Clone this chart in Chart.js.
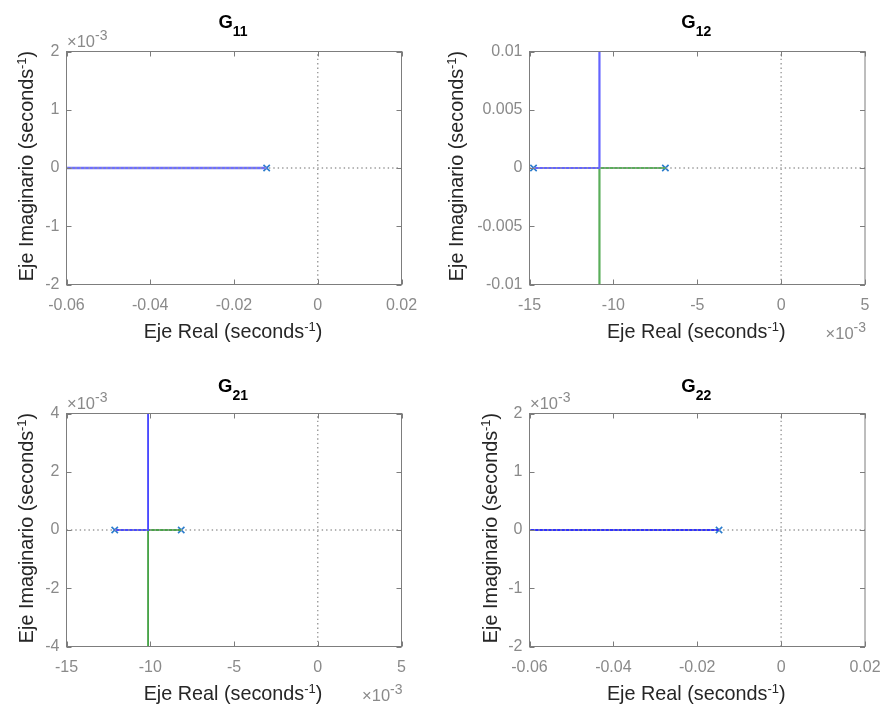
<!DOCTYPE html>
<html><head><meta charset="utf-8">
<script src="https://cdn.jsdelivr.net/npm/chart.js@4.4.0/dist/chart.umd.min.js"></script>
<style>
html,body{margin:0;padding:0;background:#fff;}
#wrap{position:relative;width:884px;height:706px;overflow:hidden;background:#fff;}
canvas{position:absolute;left:0;top:0;}
</style></head><body>
<div id="wrap">
<canvas id="c11" width="884" height="706"></canvas>
<canvas id="c12" width="884" height="706"></canvas>
<canvas id="c21" width="884" height="706"></canvas>
<canvas id="c22" width="884" height="706"></canvas>
</div>
<script>
// ---------------- data ----------------
// G11
const g11XRange = [-0.06, 0.02];
const g11YRange = [-0.002, 0.002];
const g11XTicks = [-0.06, -0.04, -0.02, 0, 0.02];
const g11XTickLabels = ['-0.06', '-0.04', '-0.02', '0', '0.02'];
const g11YTicks = [-0.002, -0.001, 0, 0.001, 0.002];
const g11YTickLabels = ['-2', '-1', '0', '1', '2'];
const g11Poles = [[-0.0122, 0]];
const g11Blue = [[-0.06, 0], [-0.0122, 0]];

// G12
const g12XRange = [-0.015, 0.005];
const g12YRange = [-0.01, 0.01];
const g12XTicks = [-0.015, -0.01, -0.005, 0, 0.005];
const g12XTickLabels = ['-15', '-10', '-5', '0', '5'];
const g12YTicks = [-0.01, -0.005, 0, 0.005, 0.01];
const g12YTickLabels = ['-0.01', '-0.005', '0', '0.005', '0.01'];
const g12Poles = [[-0.01476, 0], [-0.0069, 0]];
const g12Blue = [[-0.01476, 0], [-0.01083, 0], [-0.01083, 0.01]];
const g12Green = [[-0.0069, 0], [-0.01083, 0], [-0.01083, -0.01]];

// G21
const g21XRange = [-0.015, 0.005];
const g21YRange = [-0.004, 0.004];
const g21XTicks = [-0.015, -0.01, -0.005, 0, 0.005];
const g21XTickLabels = ['-15', '-10', '-5', '0', '5'];
const g21YTicks = [-0.004, -0.002, 0, 0.002, 0.004];
const g21YTickLabels = ['-4', '-2', '0', '2', '4'];
const g21Poles = [[-0.01212, 0], [-0.00815, 0]];
const g21Blue = [[-0.01212, 0], [-0.01013, 0], [-0.01013, 0.004]];
const g21Green = [[-0.00815, 0], [-0.01013, 0], [-0.01013, -0.004]];

// G22
const g22XRange = [-0.06, 0.02];
const g22YRange = [-0.002, 0.002];
const g22XTicks = [-0.06, -0.04, -0.02, 0, 0.02];
const g22XTickLabels = ['-0.06', '-0.04', '-0.02', '0', '0.02'];
const g22YTicks = [-0.002, -0.001, 0, 0.001, 0.002];
const g22YTickLabels = ['-2', '-1', '0', '1', '2'];
const g22Poles = [[-0.0148, 0]];
const g22Blue = [[-0.06, 0], [-0.0148, 0]];

// ---------------- styling ----------------
const FONT = "'Liberation Sans', Arial, Helvetica, sans-serif";
const TICK_COLOR = '#8a8a8a';
const BOX_COLOR = '#7d7d7d';
const LABEL_COLOR = '#262626';
const POLE_COLOR = '#2a7ccc';
const DOT_COLOR = '#9a9a9a';
const W = 884, H = 706, YAX_W = 60, XAX_H = 30;

function pts(pairs) { return pairs.map(([x, y]) => ({x, y})); }

function drawParts(ctx, parts, x, y, align, color) {
  let total = 0;
  parts.forEach(p => { ctx.font = p.font; p.w = ctx.measureText(p.t).width; total += p.w; });
  let cx = align === 'center' ? x - total / 2 : (align === 'right' ? x - total : x);
  ctx.fillStyle = color;
  ctx.textBaseline = 'alphabetic';
  ctx.textAlign = 'left';
  parts.forEach(p => { ctx.font = p.font; ctx.fillText(p.t, cx, y + (p.dy || 0)); cx += p.w; });
}

const decor = {
  id: 'decor',
  afterDraw(chart, args, o) {
    const ctx = chart.ctx, a = chart.chartArea;
    const xs = chart.scales.x, ys = chart.scales.y;
    ctx.save();
    // inward tick marks
    ctx.strokeStyle = BOX_COLOR; ctx.lineWidth = 1;
    ctx.beginPath();
    xs.ticks.forEach(t => {
      const px = Math.round(xs.getPixelForValue(t.value)) + 0.5;
      ctx.moveTo(px, a.bottom); ctx.lineTo(px, a.bottom - 5);
      ctx.moveTo(px, a.top); ctx.lineTo(px, a.top + 5);
    });
    ys.ticks.forEach(t => {
      const py = Math.round(ys.getPixelForValue(t.value)) + 0.5;
      ctx.moveTo(a.left, py); ctx.lineTo(a.left + 5, py);
      ctx.moveTo(a.right, py); ctx.lineTo(a.right - 5, py);
    });
    ctx.stroke();
    // box
    ctx.strokeRect(a.left, a.top, a.right - a.left, a.bottom - a.top);

    const cxp = (a.left + a.right) / 2, cyp = (a.top + a.bottom) / 2;
    // title
    drawParts(ctx, [
      {t: 'G', font: 'bold 18.5px ' + FONT},
      {t: o.sub, font: 'bold 14px ' + FONT, dy: 8}
    ], cxp - 1, a.top - o.titleGap, 'center', '#000');
    // x label
    drawParts(ctx, [
      {t: 'Eje Real (seconds', font: '19.8px ' + FONT},
      {t: '-1', font: '13px ' + FONT, dy: -7},
      {t: ')', font: '19.8px ' + FONT}
    ], cxp - 1, a.bottom + 53.5, 'center', LABEL_COLOR);
    // y label
    ctx.save();
    ctx.translate(a.left - o.yLabOff, cyp);
    ctx.rotate(-Math.PI / 2);
    drawParts(ctx, [
      {t: 'Eje Imaginario (seconds', font: '19.8px ' + FONT},
      {t: '-1', font: '13px ' + FONT, dy: -7},
      {t: ')', font: '19.8px ' + FONT}
    ], 2, 0, 'center', LABEL_COLOR);
    ctx.restore();
    // exponents
    const expo = [
      {t: '\u00d710', font: '16.5px ' + FONT},
      {t: '-3', font: '14px ' + FONT, dy: -6.5}
    ];
    if (o.yExpo) drawParts(ctx, expo, a.left + 0.5, a.top - 5, 'left', TICK_COLOR);
    if (o.xExpo) drawParts(ctx, expo, a.right + 1, a.bottom + 54, 'right', TICK_COLOR);
    ctx.restore();
  }
};

function dotted(data) {
  return {data: pts(data), showLine: true, borderColor: DOT_COLOR, borderWidth: 1.4,
    borderDash: [1.4, 3], pointRadius: 0, fill: false};
}
function locus(data, color, width) {
  return {data: pts(data), showLine: true, borderColor: color, borderWidth: width,
    pointRadius: 0, fill: false};
}
function poles(data) {
  return {data: pts(data), showLine: false, pointStyle: 'crossRot', pointRadius: 4.5,
    borderColor: POLE_COLOR, pointBorderColor: POLE_COLOR, borderWidth: 1.6, clip: false};
}

function makeChart(id, P, xr, yr, xt, xl, yt, yl, loci, ps, deco) {
  const datasets = [
    dotted([[xr[0], 0], [xr[1], 0]]),
    dotted([[0, yr[0]], [0, yr[1]]]),
    ...loci,
    poles(ps)
  ];
  const tickFont = {family: FONT, size: 16};
  return new Chart(document.getElementById(id), {
    type: 'scatter',
    data: {datasets},
    plugins: [decor],
    options: {
      responsive: false, animation: false, events: [],
      layout: {padding: {left: P.l - YAX_W, top: P.t, right: W - P.r, bottom: H - P.b - XAX_H}},
      plugins: {legend: {display: false}, tooltip: {enabled: false}, title: {display: false}, decor: deco},
      scales: {
        x: {
          type: 'linear', min: xr[0], max: xr[1],
          afterBuildTicks: s => { s.ticks = xt.map(v => ({value: v})); },
          afterFit: s => { s.height = XAX_H; s.paddingLeft = 0; s.paddingRight = 0; },
          grid: {display: false, drawTicks: false}, border: {display: false},
          ticks: {color: TICK_COLOR, font: tickFont, padding: 11, maxRotation: 0, autoSkip: false,
            callback: (v, i) => xl[i]}
        },
        y: {
          type: 'linear', min: yr[0], max: yr[1],
          afterBuildTicks: s => { s.ticks = yt.map(v => ({value: v})); },
          afterFit: s => { s.width = YAX_W; s.paddingTop = 0; s.paddingBottom = 0; },
          grid: {display: false, drawTicks: false}, border: {display: false},
          ticks: {color: TICK_COLOR, font: tickFont, padding: 7, autoSkip: false,
            callback: (v, i) => yl[i]}
        }
      }
    }
  });
}

makeChart('c11', {l: 66.5, t: 51.5, r: 401.5, b: 284.5}, g11XRange, g11YRange,
  g11XTicks, g11XTickLabels, g11YTicks, g11YTickLabels,
  [locus(g11Blue, '#6e6eff', 2.6)], g11Poles,
  {sub: '11', titleGap: 23.5, yLabOff: 33.5, yExpo: true, xExpo: false});

makeChart('c12', {l: 529.5, t: 51.5, r: 865, b: 284.5}, g12XRange, g12YRange,
  g12XTicks, g12XTickLabels, g12YTicks, g12YTickLabels,
  [locus(g12Blue, '#6464ff', 2.2), locus(g12Green, '#5aae5a', 2.2)], g12Poles,
  {sub: '12', titleGap: 23.5, yLabOff: 66.3, yExpo: false, xExpo: true});

makeChart('c21', {l: 66.5, t: 413.5, r: 401.5, b: 646.5}, g21XRange, g21YRange,
  g21XTicks, g21XTickLabels, g21YTicks, g21YTickLabels,
  [locus(g21Blue, '#4a4aff', 1.9), locus(g21Green, '#49a449', 1.9)], g21Poles,
  {sub: '21', titleGap: 22, yLabOff: 33.5, yExpo: true, xExpo: true});

makeChart('c22', {l: 529.5, t: 413.5, r: 865, b: 646.5}, g22XRange, g22YRange,
  g22XTicks, g22XTickLabels, g22YTicks, g22YTickLabels,
  [locus(g22Blue, '#2f2fff', 1.8)], g22Poles,
  {sub: '22', titleGap: 22, yLabOff: 32.5, yExpo: true, xExpo: false});
</script>
</body></html>
